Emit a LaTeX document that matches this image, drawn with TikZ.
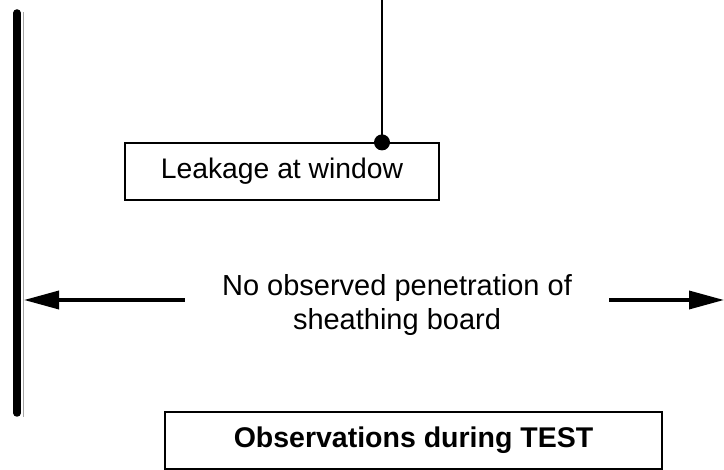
\documentclass[tikz,border=0pt]{standalone}
\usepackage{fontspec}
\setmainfont{Liberation Sans}
\usetikzlibrary{arrows.meta}

\begin{document}
\begin{tikzpicture}[x=1pt, y=-1pt,
    note box/.style={draw, line width=1.2pt, inner sep=0pt},
    flow/.style={line width=3.5pt, -{Triangle[length=35pt, width=18pt]}}]
    \useasboundingbox (0,0) rectangle (724,470);
    % wall
    \draw[line width=7.5pt, line cap=round] (17,13) -- (17,413);
    \draw[line width=0.8pt, gray!70] (23,12) -- (23,417);
    % leakage marker
    \node[note box, minimum width=314pt, minimum height=57pt, font=\fontsize{28.3}{34}\selectfont] (leak) at (282,171.5) {Leakage at window};
    \coordinate (top) at (382,0);
    \coordinate (tap) at (leak.north -| top);
    \draw[line width=1.2pt] (top) -- (tap);
    \fill (tap) circle (8pt);
    % penetration note with arrows
    \node[align=center, inner xsep=37pt, font=\fontsize{29}{33.5}\selectfont] (pen) at (397,305) {No observed penetration of\\sheathing board};
    \coordinate (wall) at (24,300);
    \coordinate (edge) at (724,300);
    \draw[flow] (pen.west |- wall) -- (wall);
    \draw[flow] (pen.east |- edge) -- (edge);
    % title
    \node[note box, minimum width=497pt, minimum height=57pt, font=\bfseries\fontsize{28.5}{34}\selectfont] (obs) at (413.5,440.5) {Observations during TEST};
\end{tikzpicture}
\end{document}
